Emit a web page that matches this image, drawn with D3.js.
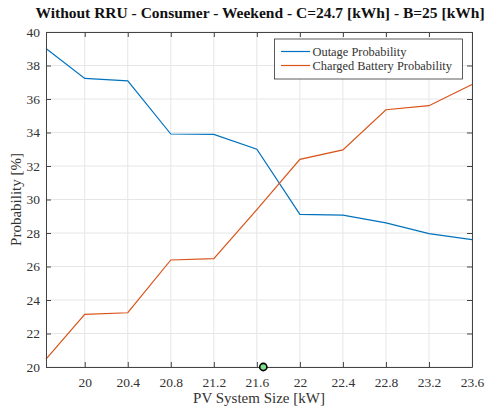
<!DOCTYPE html>
<html>
<head>
<meta charset="utf-8">
<script src="https://cdn.jsdelivr.net/npm/d3@7"></script>
<style>
  body { margin: 0; background: #fff; }
  svg text { font-family: "Liberation Serif", "DejaVu Serif", serif; fill: #333; }
</style>
</head>
<body>
<div class="main"></div>
<script>
// PV size steps (kW)
let pvSize = [19.64, 20, 20.4, 20.8, 21.2, 21.6, 22, 22.4, 22.8, 23.2, 23.6]
let outageProb = [39.01, 37.23, 37.08, 33.91, 33.89, 33.0, 29.11, 29.07, 28.6, 27.96, 27.6]
let chargedProb = [20.47, 23.14, 23.24, 26.39, 26.47, 29.39, 32.4, 32.96, 35.36, 35.6, 36.87]
let xTicks = [20, 20.4, 20.8, 21.2, 21.6, 22, 22.4, 22.8, 23.2, 23.6]
let yTicks = [20, 22, 24, 26, 28, 30, 32, 34, 36, 38, 40]
let marker = [{x: 21.66, y: 20}]
let seriesNames = ['Outage Probability', 'Charged Battery Probability']
let colors = ['#0072BD', '#D95319']

let width = 499, height = 409
let margin = {top: 32, right: 27, bottom: 42, left: 46}
let w = width - margin.left - margin.right
let h = height - margin.top - margin.bottom

let svg = d3.select('.main').append('svg')
  .attr('width', width)
  .attr('height', height)

let xScale = d3.scaleLinear().domain([pvSize[0], 23.6]).range([0, w])
let yScale = d3.scaleLinear().domain([20, 40]).range([h, 0])

let g = svg.append('g').attr('transform', `translate(${margin.left}, ${margin.top})`)

// grid
g.append('g').selectAll('line').data(xTicks).enter().append('line')
  .attr('x1', d => xScale(d)).attr('x2', d => xScale(d))
  .attr('y1', 0).attr('y2', h)
  .style('stroke', '#e6e6e6')
g.append('g').selectAll('line').data(yTicks).enter().append('line')
  .attr('x1', 0).attr('x2', w)
  .attr('y1', d => yScale(d)).attr('y2', d => yScale(d))
  .style('stroke', '#e6e6e6')

// lines
let line = d3.line().x(d => xScale(d[0])).y(d => yScale(d[1]))
;[outageProb, chargedProb].forEach((vals, i) => {
  g.append('path')
    .datum(pvSize.map((x, j) => [x, vals[j]]))
    .attr('d', line)
    .style('fill', 'none')
    .style('stroke', colors[i])
    .style('stroke-width', 1.2)
})

// axes (ticks inside, box on)
let xAxis = d3.axisBottom(xScale).tickValues(xTicks).tickFormat(d3.format('')).tickSizeInner(-5).tickSizeOuter(0).tickPadding(10)
let yAxis = d3.axisLeft(yScale).tickValues(yTicks).tickSizeInner(-5).tickSizeOuter(0).tickPadding(6)

let gx = g.append('g').attr('transform', `translate(0, ${h})`).call(xAxis)
let gy = g.append('g').call(yAxis)
let gxTop = g.append('g').call(d3.axisTop(xScale).tickValues(xTicks).tickSizeInner(-5).tickSizeOuter(0).tickFormat(''))
let gyRight = g.append('g').attr('transform', `translate(${w}, 0)`).call(d3.axisRight(yScale).tickValues(yTicks).tickSizeInner(-5).tickSizeOuter(0).tickFormat(''))

;[gx, gy, gxTop, gyRight].forEach(a => {
  a.selectAll('path, line').style('stroke', '#444')
  a.selectAll('text').style('font-size', '13.5px').style('font-family', '"Liberation Serif", serif').style('fill', '#333')
})

// marker
g.selectAll('circle').data(marker).enter().append('circle')
  .attr('cx', d => xScale(d.x)).attr('cy', d => yScale(d.y))
  .attr('r', 3.6)
  .style('fill', '#7ee08a')
  .style('stroke', '#000')
  .style('stroke-width', 1.6)

// legend
let leg = g.append('g').attr('transform', `translate(${274.5 - margin.left}, ${39 - margin.top})`)
leg.append('rect').attr('width', 188).attr('height', 40)
  .style('fill', '#fff').style('stroke', '#333').style('stroke-width', 0.8)
seriesNames.forEach((name, i) => {
  let y = 12.5 + i * 14
  leg.append('line').attr('x1', 6.5).attr('x2', 35.5).attr('y1', y).attr('y2', y)
    .style('stroke', colors[i]).style('stroke-width', 1.2)
  leg.append('text').attr('x', 38).attr('y', y + 4)
    .style('font-size', '12.4px').text(name)
})

// title and labels
svg.append('text')
  .attr('x', margin.left + w / 2 + 1).attr('y', 18)
  .attr('text-anchor', 'middle')
  .style('font-size', '15.5px').style('font-weight', 'bold').style('fill', '#111')
  .text('Without RRU - Consumer - Weekend - C=24.7 [kWh] - B=25 [kWh]')

svg.append('text')
  .attr('x', margin.left + w / 2).attr('y', 403)
  .attr('text-anchor', 'middle')
  .style('font-size', '15px')
  .text('PV System Size [kW]')

svg.append('text')
  .attr('transform', `translate(21, ${margin.top + h / 2}) rotate(-90)`)
  .attr('text-anchor', 'middle')
  .style('font-size', '15px')
  .text('Probability [%]')
</script>
</body>
</html>
